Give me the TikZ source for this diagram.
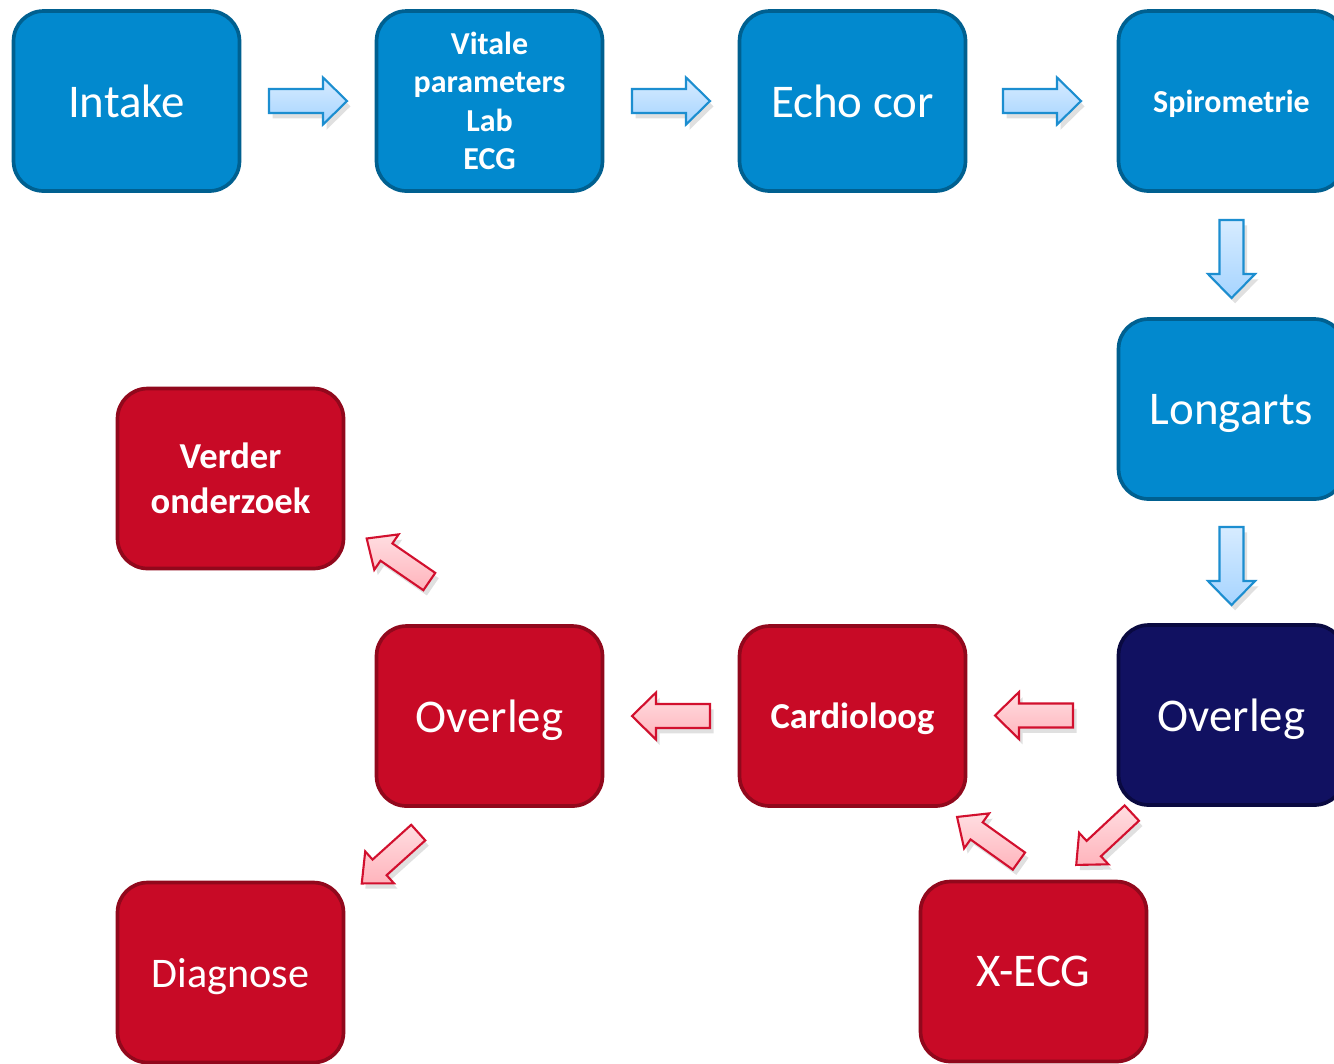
\documentclass[tikz,border=0pt]{standalone}
\usepackage{fontspec}
\setmainfont{Carlito}
\usetikzlibrary{calc}

\definecolor{boxblue}{RGB}{2,137,206}
\definecolor{boxblueline}{RGB}{0,96,144}
\definecolor{boxnavy}{RGB}{17,17,97}
\definecolor{boxnavyline}{RGB}{9,9,64}
\definecolor{boxred}{RGB}{200,10,38}
\definecolor{boxredline}{RGB}{145,8,28}
\definecolor{arrowblue}{RGB}{166,212,255}
\definecolor{arrowblueline}{RGB}{28,142,208}
\definecolor{arrowred}{RGB}{255,180,188}
\definecolor{arrowredline}{RGB}{210,16,46}

\tikzset{
  stepbox/.style={draw, line width=2.1pt, rounded corners=0.6cm,
    minimum width=4.52cm, minimum height=3.6cm, inner sep=0pt,
    text=white, align=center, font=\fontsize{26.7}{32}\selectfont},
  bluebox/.style={stepbox, fill=boxblue, draw=boxblueline},
  navybox/.style={stepbox, fill=boxnavy, draw=boxnavyline},
  redbox/.style={stepbox, fill=boxred, draw=boxredline},
  nodepth/.style={text depth=0pt},
  smallbold/.style={font=\fontsize{18.2}{21.8}\selectfont\bfseries},
  midbold/.style={font=\fontsize{20.8}{25.6}\selectfont\bfseries},
  bluearrow/.style={draw=arrowblueline, line width=1.2pt, line join=miter,
    top color=arrowblue!45!white, bottom color=arrowblue},
  redarrow/.style={draw=arrowredline, line width=1.2pt, line join=miter,
    top color=arrowred!45!white, bottom color=arrowred},
}

% block arrow: #1 centre, #2 angle, #3 style, #4 half shaft, #5 half head, #6 half length
\newcommand{\blockarrow}[6]{%
  \begin{scope}[shift={#1}, rotate=#2]
    \fill[black, opacity=0.12, transform canvas={xshift=2pt, yshift=-3pt}]
      (-#6,-#4) -- (#6-24,-#4) -- (#6-24,-#5) -- (#6,0) -- (#6-24,#5) -- (#6-24,#4) -- (-#6,#4) -- cycle;
    \draw[#3]
      (-#6,-#4) -- (#6-24,-#4) -- (#6-24,-#5) -- (#6,0) -- (#6-24,#5) -- (#6-24,#4) -- (-#6,#4) -- cycle;
  \end{scope}}

\begin{document}
\begin{tikzpicture}[x=0.02cm, y=-0.02cm]
  \useasboundingbox (0,0) rectangle (1334,1063);
  \clip (0,0) rectangle (1334,1063);
  \fill[white] (0,0) rectangle (1334,1063);

  % top row
  \node[bluebox] (intake) at (126.5,101) {Intake};
  \node[bluebox, smallbold] (vitale) at (489.5,101) {Vitale\\parameters\\Lab\\ECG};
  \node[bluebox] (echo) at (852.5,101) {Echo cor};
  \node[bluebox, smallbold, nodepth] (spiro) at (1231.5,101) {Spirometrie};

  % right column
  \node[bluebox, nodepth] (longarts) at (1231.5,409) {Longarts};
  \node[navybox, nodepth] (ovdark) at (1231.5,715) {Overleg};

  % red part
  \node[redbox, midbold, nodepth] (cardio) at (852.5,716) {Cardioloog};
  \node[redbox, nodepth] (overleg) at (489.5,716) {Overleg};
  \node[redbox, midbold] (verder) at (230.5,478.5) {Verder\\onderzoek};
  \node[redbox, nodepth, font=\fontsize{24}{29}\selectfont] (diagnose) at (230.5,972.5) {Diagnose};
  \node[redbox] (xecg) at (1033.5,971.5) {X-ECG};

  % arrows
  \blockarrow{($(intake.east)!0.5!(vitale.west)$)}{0}{bluearrow}{12}{23.5}{39}
  \blockarrow{($(vitale.east)!0.5!(echo.west)$)}{0}{bluearrow}{12}{23.5}{39}
  \blockarrow{($(echo.east)!0.5!(spiro.west)$)}{0}{bluearrow}{12}{23.5}{39}
  \blockarrow{($(spiro.south)!0.5!(longarts.north)+(0,4)$)}{-90}{bluearrow}{12}{23.5}{39}
  \blockarrow{($(longarts.south)!0.5!(ovdark.north)+(0,4)$)}{-90}{bluearrow}{12}{23.5}{39}
  \blockarrow{($(ovdark.west)!0.5!(cardio.east)+(-8,0)$)}{180}{redarrow}{12}{23.5}{39}
  \blockarrow{($(cardio.west)!0.5!(overleg.east)$)}{180}{redarrow}{12}{23.5}{39}
  \blockarrow{(1104,839)}{223}{redarrow}{10.5}{21.5}{38}
  \blockarrow{(988,839)}{144.5}{redarrow}{10.5}{21.5}{38}
  \blockarrow{(398,560)}{145.5}{redarrow}{10.5}{21.5}{38}
  \blockarrow{(390,858)}{222}{redarrow}{10.5}{21.5}{38}
\end{tikzpicture}
\end{document}
